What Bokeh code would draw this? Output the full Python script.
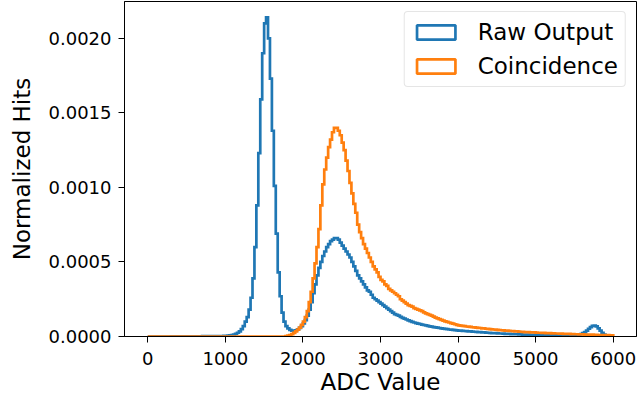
from bokeh.plotting import figure
from bokeh.models import ColumnDataSource, Range1d, Legend, LegendItem, FixedTicker, PrintfTickFormatter
from bokeh.embed import file_html
from bokeh.resources import INLINE

# ---- data (histogram, bin width 25 ADC, 0..6000) ----
bin_width = 25
bin_start = 0
raw_output = [
    # 0 - 975
    0, 0, 0, 0, 0, 0, 0, 0, 0, 0,
    0, 0, 0.000001, 0.000001, 0.000001, 0.000001, 0.000001, 0.000001, 0.000001, 0.000001,
    0.000001, 0.000001, 0.000001, 0.000001, 0.000001, 0.000001, 0.000001, 0.000001, 0.000002, 0.000002,
    0.000002, 0.000002, 0.000002, 0.000002, 0.000002, 0.000002, 0.000003, 0.000003, 0.000003, 0.000004,
    # 1000 - 1875
    0.000005, 0.000006, 0.000007, 0.000009, 0.000012, 0.000017, 0.000025, 0.000035, 0.00005, 0.00007,
    0.0001, 0.00013, 0.00018, 0.00026, 0.00039, 0.0006, 0.00088, 0.00123, 0.00159, 0.0019,
    0.0021, 0.00214, 0.002, 0.00173, 0.00138, 0.00101, 0.00069, 0.00043, 0.00027, 0.00016,
    0.0001, 0.00007, 0.000055, 0.000045, 0.00004, 0.00004,
    # 1900 - 3975
    0.000042, 0.000048, 0.000058, 0.00007, 0.000088, 0.00011, 0.00014, 0.00018, 0.00023, 0.00029, 0.00035, 0.00041,
    0.00046, 0.0005, 0.00054, 0.00057, 0.0006, 0.00062, 0.00064, 0.00065, 0.00066, 0.00066, 0.00065, 0.00063,
    0.00061, 0.00059, 0.00057, 0.00055, 0.00053, 0.0005, 0.00047, 0.00044, 0.00041, 0.00039, 0.00037, 0.00035,
    0.00033, 0.00031, 0.0003, 0.00028, 0.00026, 0.00025, 0.00024, 0.00023, 0.00022, 0.00021, 0.0002, 0.00019,
    0.00018, 0.00017, 0.00016, 0.00015, 0.000145, 0.00014, 0.000132, 0.000125, 0.00012, 0.000114, 0.000108, 0.000103,
    0.000098, 0.000094, 0.00009, 0.000087, 0.000084, 0.00008, 0.000077, 0.000074, 0.000071, 0.000068, 0.000066, 0.000063,
    0.000061, 0.000059, 0.000057, 0.000055, 0.000053, 0.000051, 0.000049, 0.000047, 0.000046, 0.000044, 0.000043, 0.000041,
    # 4000 - 4975
    0.00004, 0.000039, 0.000038, 0.000037, 0.000036, 0.000035, 0.000034, 0.000033, 0.000032, 0.000031,
    0.00003, 0.000029, 0.000028, 0.000027, 0.000026, 0.000025, 0.000024, 0.000023, 0.000023, 0.000022,
    0.000021, 0.00002, 0.00002, 0.000019, 0.000018, 0.000018, 0.000017, 0.000016, 0.000016, 0.000015,
    0.000015, 0.000014, 0.000014, 0.000013, 0.000013, 0.000012, 0.000012, 0.000011, 0.000011, 0.00001,
    # 5000 - 5475
    0.00001, 0.00001, 0.000009, 0.000009, 0.000009, 0.000008, 0.000008, 0.000008, 0.000008, 0.000007,
    0.000007, 0.000007, 0.000007, 0.000006, 0.000006, 0.000006, 0.000006, 0.000006, 0.000007, 0.000008,
    # 5500 - 5975
    0.000009, 0.00001, 0.000012, 0.000016, 0.000022, 0.00003, 0.00004, 0.000052, 0.000063, 0.000071,
    0.000073, 0.000068, 0.000055, 0.00004, 0.000025, 0.000013, 0.000006, 0.000003, 0.000001, 0,
]
coincidence = [
    # 0 - 1750
    0, 0, 0, 0, 0, 0, 0, 0, 0, 0,
    0, 0, 0, 0, 0, 0, 0, 0, 0, 0,
    0, 0, 0, 0, 0, 0, 0, 0, 0, 0,
    0, 0, 0, 0, 0, 0, 0, 0, 0, 0,
    0, 0, 0, 0, 0, 0, 0, 0, 0, 0,
    0, 0, 0, 0, 0, 0, 0, 0, 0, 0,
    0, 0, 0, 0, 0, 0, 0, 0, 0, 0, 0,
    # 1775 - 1975
    0.000003, 0.000006, 0.00001, 0.000016, 0.000024, 0.000034, 0.000046, 0.00006, 0.000078,
    # 2000 - 2975
    0.0001, 0.00013, 0.00017, 0.00023, 0.0003, 0.00039, 0.00049, 0.0006, 0.00072, 0.00088,
    0.00102, 0.00112, 0.0012, 0.00127, 0.00132, 0.00137, 0.0014, 0.0014, 0.00138, 0.00135,
    0.0013, 0.00125, 0.00118, 0.00111, 0.00103, 0.00096, 0.00089, 0.00083, 0.00075, 0.0007,
    0.00066, 0.00062, 0.00059, 0.00056, 0.00053, 0.0005, 0.00047, 0.00045, 0.00043, 0.0004,
    # 3000 - 3975
    0.00038, 0.00037, 0.00035, 0.00034, 0.00032, 0.00031, 0.0003, 0.00029, 0.00028, 0.00027,
    0.00025, 0.00024, 0.00023, 0.00022, 0.00021, 0.000205, 0.0002, 0.00019, 0.000185, 0.00018,
    0.000175, 0.00017, 0.000162, 0.000155, 0.00015, 0.000145, 0.00014, 0.000133, 0.000127, 0.000122,
    0.000117, 0.000112, 0.000107, 0.000102, 0.000098, 0.000094, 0.00009, 0.000086, 0.000082, 0.000078,
    # 4000 - 4975
    0.000075, 0.000073, 0.000071, 0.000069, 0.000067, 0.000066, 0.000064, 0.000062, 0.000061, 0.00006,
    0.000058, 0.000057, 0.000055, 0.000054, 0.000052, 0.000051, 0.00005, 0.000048, 0.000047, 0.000046,
    0.000044, 0.000043, 0.000042, 0.000041, 0.00004, 0.000039, 0.000038, 0.000037, 0.000036, 0.000035,
    0.000034, 0.000033, 0.000032, 0.000031, 0.00003, 0.000029, 0.000029, 0.000028, 0.000027, 0.000027,
    # 5000 - 5975
    0.000026, 0.000025, 0.000025, 0.000024, 0.000024, 0.000023, 0.000022, 0.000022, 0.000021, 0.000021,
    0.00002, 0.00002, 0.000019, 0.000019, 0.000018, 0.000018, 0.000017, 0.000017, 0.000016, 0.000016,
    0.000015, 0.000015, 0.000014, 0.000014, 0.000014, 0.000013, 0.000013, 0.000012, 0.000012, 0.000012,
    0.000011, 0.000011, 0.00001, 0.00001, 0.00001, 0.000009, 0.000009, 0.000009, 0.000008, 0.000008,
]
series_labels = ["Raw Output", "Coincidence"]
series_colors = ["#1f77b4", "#ff7f0e"]
x_ticks = [0, 1000, 2000, 3000, 4000, 5000, 6000]
y_ticks = [0.0, 0.0005, 0.0010, 0.0015, 0.0020]


def step_outline(values):
    edges = [bin_start + i * bin_width for i in range(len(values) + 1)]
    xs, ys = [edges[0]], [0.0]
    for i, v in enumerate(values):
        xs += [edges[i], edges[i + 1]]
        ys += [v, v]
    xs.append(edges[-1])
    ys.append(0.0)
    return xs, ys


n_bins = len(raw_output)
x_lo, x_hi = bin_start, bin_start + n_bins * bin_width
pad = 0.05 * (x_hi - x_lo)
y_top = 1.05 * max(max(raw_output), max(coincidence))

p = figure(width=639, height=398, output_backend="svg", toolbar_location=None,
           x_range=Range1d(x_lo - pad, x_hi + pad), y_range=Range1d(0, y_top),
           min_border_left=124, min_border_right=3, min_border_top=1, min_border_bottom=62)
p.background_fill_color = "white"
p.border_fill_color = "white"
p.outline_line_color = "black"
p.outline_line_width = 1
p.xgrid.visible = False
p.ygrid.visible = False

nan = float("nan")
items = []
for vals, lab, col in zip([raw_output, coincidence], series_labels, series_colors):
    xs, ys = step_outline(vals)
    p.line(xs, ys, line_color=col, line_width=2.7, line_join="miter")
    # legend-only patch (not drawn in the plot area)
    dummy = p.quad(source=ColumnDataSource(dict(left=[nan], right=[nan], top=[nan], bottom=[nan])),
                   left="left", right="right", top="top", bottom="bottom",
                   fill_alpha=0, line_color=col, line_width=2.7)
    items.append(LegendItem(label=lab, renderers=[dummy]))

legend = Legend(items=items, location="top_right")
legend.label_text_font = "DejaVu Sans"
legend.label_text_font_size = "23px"
legend.label_text_color = "black"
legend.glyph_width = 48
legend.glyph_height = 18
legend.label_height = 26
legend.label_standoff = 18
legend.spacing = 8
legend.padding = 7
legend.margin = 10
legend.border_line_color = "#cccccc"
legend.border_line_width = 1
legend.background_fill_color = "white"
legend.background_fill_alpha = 0.8
if "border_radius" in Legend.properties():
    legend.border_radius = 4
p.add_layout(legend, "center")

for ax in (p.xaxis[0], p.yaxis[0]):
    ax.axis_line_color = "black"
    ax.major_tick_line_color = "black"
    ax.minor_tick_line_color = None
    ax.major_tick_in = 0
    ax.major_tick_out = 6
    ax.major_label_text_font = "DejaVu Sans"
    ax.major_label_text_font_size = "18px"
    ax.major_label_text_color = "black"
    ax.axis_label_text_font = "DejaVu Sans"
    ax.axis_label_text_font_size = "23px"
    ax.axis_label_text_font_style = "normal"
    ax.axis_label_text_color = "black"

p.xaxis.axis_label = "ADC Value"
p.yaxis.axis_label = "Normalized Hits"
p.xaxis.ticker = FixedTicker(ticks=x_ticks)
p.yaxis.ticker = FixedTicker(ticks=y_ticks)
p.xaxis.formatter = PrintfTickFormatter(format="%d")
p.yaxis.formatter = PrintfTickFormatter(format="%.4f")
p.xaxis.major_label_standoff = 9
p.xaxis.axis_label_standoff = 1
p.yaxis.major_label_standoff = 7
p.yaxis.axis_label_standoff = 11

open("out.html", "w").write(file_html(p, INLINE))
